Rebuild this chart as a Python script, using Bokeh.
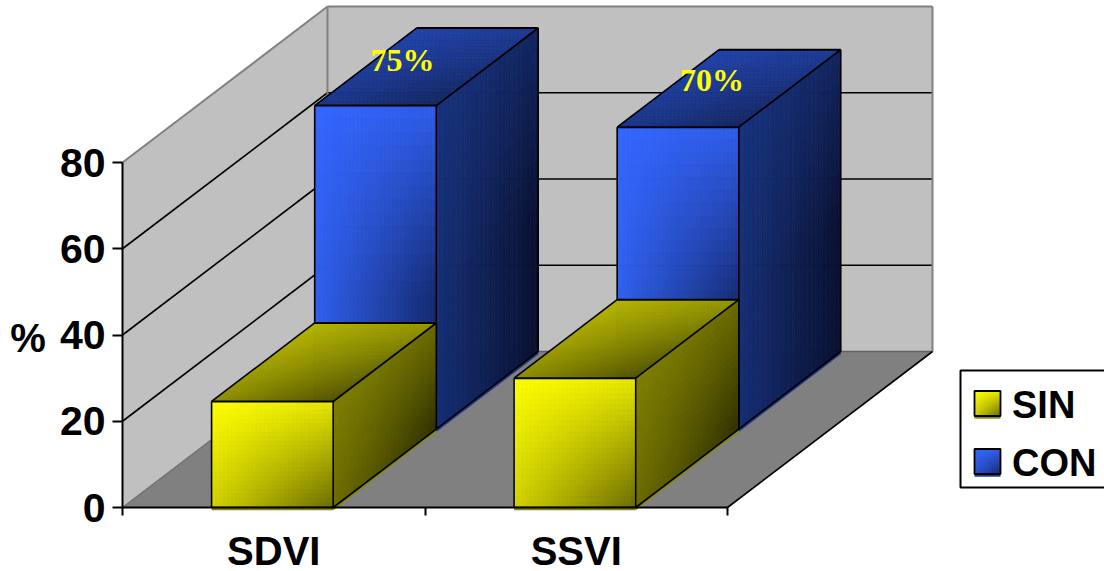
from bokeh.core.properties import value
from bokeh.embed import file_html
from bokeh.models import ColumnDataSource, FixedTicker, LinearAxis, Range1d
from bokeh.plotting import figure
from bokeh.resources import INLINE

# ---- chart data -------------------------------------------------------------
categories = ["SDVI", "SSVI"]
series_names = ["SIN", "CON"]
sin_values = [24.6, 30]
con_values = [75, 70]
value_ticks = [0, 20, 40, 60, 80]

# ---- scale: one category is 302.5 px wide, one percent is 4.3125 px tall ------
W, H = 1104, 571
PX_CAT, PX_VAL = 302.5, 4.3125
ORIGIN_X, ORIGIN_Y = 122, 507
X_START, X_END = -ORIGIN_X / PX_CAT, (W - ORIGIN_X) / PX_CAT
Y_START, Y_END = -(H - ORIGIN_Y) / PX_VAL, ORIGIN_Y / PX_VAL

# oblique projection of the third axis (depth 0 = front, 1 = back)
DEPTH_X, DEPTH_Y = 205 / PX_CAT, 156 / PX_VAL
TOP_VAL = 80
BAR_LEFT, BAR_W = 0.2945, 0.402
SPLIT = 0.503


def proj(c, v, d=0.0):
    return c + DEPTH_X * d, v + DEPTH_Y * d


def from_px(px, py):
    return (px - ORIGIN_X) / PX_CAT, (ORIGIN_Y - py) / PX_VAL


p = figure(width=W, height=H, output_backend="svg", toolbar_location=None,
           x_range=Range1d(X_START, X_END), y_range=Range1d(Y_START, Y_END),
           x_axis_location=None, y_axis_location=None,
           min_border=0, outline_line_color=None)
p.grid.visible = False
p.background_fill_color = "white"
p.border_fill_color = "white"


def poly(points, fill, line=None, width=1.0):
    xs, ys = zip(*points)
    p.patch(list(xs), list(ys), fill_color=fill, line_color=line, line_width=width)


def seg(a, b, color="black", width=1.6):
    p.line([a[0], b[0]], [a[1], b[1]], line_color=color, line_width=width)


def lerp(c0, c1, t):
    t = max(0.0, min(1.0, t))
    return "#%02x%02x%02x" % tuple(round(a + (b - a) * t) for a, b in zip(c0, c1))


def shaded(quad, c0, c1, t_of, nu=30, nv=24):
    """Fill a quad (tl, tr, br, bl) with a smooth shade made of small cells."""
    tl, tr, br, bl = quad

    def at(u, v):
        top = (tl[0] + (tr[0] - tl[0]) * u, tl[1] + (tr[1] - tl[1]) * u)
        bot = (bl[0] + (br[0] - bl[0]) * u, bl[1] + (br[1] - bl[1]) * u)
        return top[0] + (bot[0] - top[0]) * v, top[1] + (bot[1] - top[1]) * v

    xs, ys, cols = [], [], []
    for i in range(nu):
        for j in range(nv):
            u0, u1, v0, v1 = i / nu, (i + 1) / nu, j / nv, (j + 1) / nv
            cell = [at(u0, v0), at(u1, v0), at(u1, v1), at(u0, v1)]
            xs.append([q[0] for q in cell])
            ys.append([q[1] for q in cell])
            cols.append(lerp(c0, c1, t_of((u0 + u1) / 2, (v0 + v1) / 2)))
    src = ColumnDataSource(dict(xs=xs, ys=ys, c=cols))
    p.patches("xs", "ys", source=src, fill_color="c", line_color="c", line_width=0.7)


def tall(v):
    """Tall bars reach their darkest shade well before the base."""
    return min(1.0, 1.7 * v)


SHADES = {
    "SIN": dict(front=((255, 255, 0), (108, 108, 0)),
                side=((128, 128, 0), (50, 50, 0)),
                top=((182, 182, 0), (84, 84, 0)),
                front_t=lambda u, v: 0.15 * u + 0.3 * v + 0.55 * u * v,
                side_t=lambda u, v: 0.25 * u + 0.25 * v + 0.5 * u * v,
                edge="#8a8a00"),
    "CON": dict(front=((51, 102, 255), (20, 42, 112)),
                side=((22, 50, 125), (9, 16, 48)),
                top=((32, 66, 170), (20, 38, 96)),
                front_t=lambda u, v: 0.15 * u + 0.1 * tall(v) + 0.75 * u * tall(v),
                side_t=lambda u, v: 0.4 * u + 0.1 * tall(v) + 0.5 * u * tall(v),
                edge="#1a3a90"),
}
TOP_T = lambda u, v: 0.3 * u + 0.4 * v + 0.3 * u * v
SWATCH_T = SHADES["SIN"]["front_t"]

# ---- walls and floor ---------------------------------------------------------
c_l, c_r = 0, len(categories)
poly([proj(c_l, 0), proj(c_l, TOP_VAL), proj(c_l, TOP_VAL, 1), proj(c_l, 0, 1)], "#c0c0c0")
poly([proj(c_l, 0, 1), proj(c_l, TOP_VAL, 1), proj(c_r, TOP_VAL, 1), proj(c_r, 0, 1)], "#c0c0c0")
poly([proj(c_l, 0), proj(c_l, 0, 1), proj(c_r, 0, 1), proj(c_r, 0)], "#808080")

for v in value_ticks[1:-1]:
    seg(proj(c_l, v), proj(c_l, v, 1), width=1.6)
    seg(proj(c_l, v, 1), proj(c_r, v, 1), width=1.6)

seg(proj(c_l, TOP_VAL), proj(c_l, TOP_VAL, 1), "#808080", 2)
seg(proj(c_l, TOP_VAL, 1), proj(c_r, TOP_VAL, 1), "#808080", 2)
seg(proj(c_r, TOP_VAL, 1), proj(c_r, 0, 1), "#808080", 2)
seg(proj(c_l, 0, 1), proj(c_l, TOP_VAL, 1), "#808080", 2)
seg(proj(c_l, 0), proj(c_l, 0, 1), "#707070", 1.5)
seg(proj(c_l, 0, 1), proj(c_r, 0, 1), "#606060", 1.5)
seg(proj(c_r, 0), proj(c_r, 0, 1), "black", 1.6)


def bar(cat, val, name, d0, d1):
    s = SHADES[name]
    x0, x1 = cat + BAR_LEFT, cat + BAR_LEFT + BAR_W
    f_tl, f_tr = proj(x0, val, d0), proj(x1, val, d0)
    f_bl, f_br = proj(x0, 0, d0), proj(x1, 0, d0)
    b_tl, b_tr = proj(x0, val, d1), proj(x1, val, d1)
    b_br = proj(x1, 0, d1)
    # thin coloured rim peeking out under the black outline
    seg((f_bl[0], f_bl[1] - 0.4), (f_br[0], f_br[1] - 0.4), s["edge"], 2)
    seg((f_br[0], f_br[1] - 0.4), (b_br[0], b_br[1] - 0.4), s["edge"], 2)
    shaded((f_tl, f_tr, f_br, f_bl), *s["front"], s["front_t"])
    shaded((f_tr, b_tr, b_br, f_br), *s["side"], s["side_t"], nu=40, nv=20)
    shaded((b_tl, b_tr, f_tr, f_tl), *s["top"], TOP_T)
    for a, b, w in [(f_tl, f_tr, 2), (f_tr, f_br, 1.6), (f_br, f_bl, 1.6), (f_bl, f_tl, 1.6),
                    (f_tl, b_tl, 1.6), (b_tl, b_tr, 2), (b_tr, f_tr, 1.8), (b_tr, b_br, 1.6),
                    (b_br, f_br, 1.6)]:
        seg(a, b, width=w)


for i, v in enumerate(con_values):
    bar(i, v, "CON", SPLIT, 1.0)
for i, v in enumerate(sin_values):
    bar(i, v, "SIN", 0.0, SPLIT)

# ---- value labels printed on the top faces of the CON bars -------------------
label_nudge_px = [(27, -46), (34, -47)]
for i, v in enumerate(con_values):
    lx, ly = proj(i + BAR_LEFT + BAR_W / 2, v, SPLIT)
    p.text([lx], [ly], text=[f"{v}%"], text_color="#ffff00",
           text_font=value("Liberation Serif"), text_font_style="bold",
           text_font_size="32px", text_align="center", text_baseline="middle",
           x_offset=label_nudge_px[i][0], y_offset=label_nudge_px[i][1])

# ---- axes -------------------------------------------------------------------
FONT = "Liberation Sans"
y_axis = LinearAxis(ticker=FixedTicker(ticks=value_ticks), fixed_location=0,
                    bounds=(0, TOP_VAL),
                    major_label_text_font=FONT, major_label_text_font_size="41px",
                    major_label_text_font_style="bold", major_label_text_color="black",
                    major_label_standoff=7, major_tick_out=10, major_tick_in=0,
                    major_tick_line_width=2, minor_tick_line_color=None,
                    axis_line_width=2)
p.add_layout(y_axis, "left")

x_axis = LinearAxis(ticker=FixedTicker(ticks=[0.5, 1.5], minor_ticks=[0, 1, 2]),
                    fixed_location=0, bounds=(0, len(categories)),
                    major_label_overrides={i + 0.5: c for i, c in enumerate(categories)},
                    major_label_text_font=FONT, major_label_text_font_size="40px",
                    major_label_text_font_style="bold", major_label_text_color="black",
                    major_label_standoff=13, major_tick_out=0, major_tick_in=0,
                    major_tick_line_color=None, minor_tick_out=8, minor_tick_in=0,
                    minor_tick_line_width=2, axis_line_width=2)
p.add_layout(x_axis, "below")

px, py = from_px(27.5, 337)
p.text([px], [py], text=["%"], text_color="black", text_font=value(FONT),
       text_font_style="bold", text_font_size="40px",
       text_align="center", text_baseline="middle")

# ---- legend: its box runs off the right-hand edge of the page -----------------
box_tl, box_br = from_px(960, 370), from_px(1112, 487)
p.quad(left=box_tl[0], right=box_br[0], top=box_tl[1], bottom=box_br[1],
       fill_color="white", line_color="black", line_width=2)

legend_rows_px = [403, 461]
for name, row in zip(series_names, legend_rows_px):
    s = SHADES[name]
    tl, tr = from_px(974, row - 12.5), from_px(1000, row - 12.5)
    bl, br = from_px(974, row + 12.5), from_px(1000, row + 12.5)
    seg((bl[0], bl[1] - 0.4), (br[0], br[1] - 0.4), s["edge"], 2)
    shaded((tl, tr, br, bl), *s["front"], SWATCH_T, nu=12, nv=12)
    poly([tl, tr, br, bl], None, "black", 1.8)
    tx, ty = from_px(1011.5, row + 1)
    p.text([tx], [ty], text=[name], text_color="black", text_font=value(FONT),
           text_font_style="bold", text_font_size="38px",
           text_align="left", text_baseline="middle")

open("out.html", "w").write(file_html(p, INLINE))
